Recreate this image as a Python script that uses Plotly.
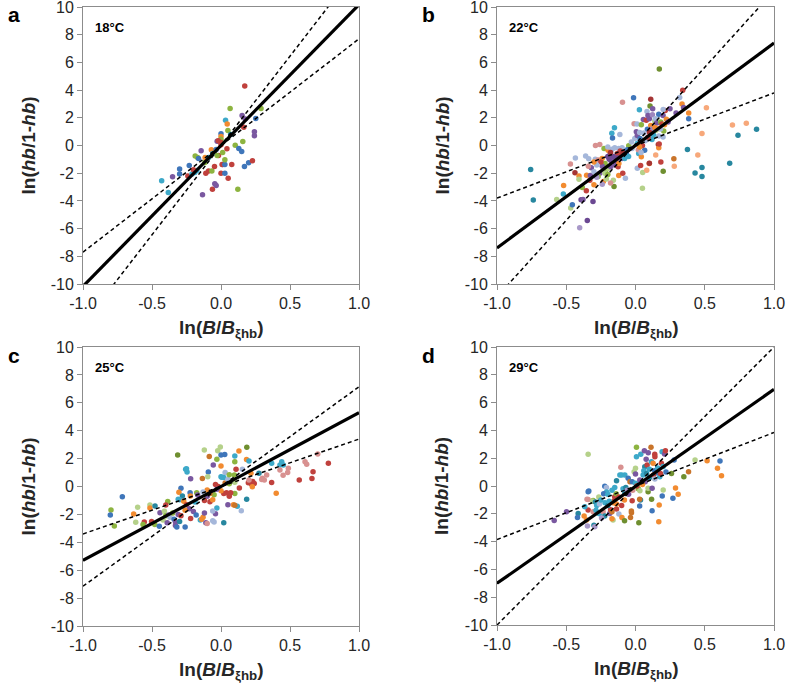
import plotly.graph_objects as go

# ---------------- data ----------------
PALETTE = {
    'B': '#3F76BA', 'R': '#C0413D', 'G': '#8DB440', 'P': '#7A58A0', 'C': '#3DA9C9',
    'O': '#F28B30', 'LB': '#A5B7DA', 'PK': '#D89190', 'LG': '#B5D18A', 'T': '#27879F',
    'SA': '#F7A87A', 'BO': '#C9742A', 'DR': '#A53434', 'DP': '#6B4892', 'OL': '#6F8F30',
    'LV': '#A898C8', 'LP': '#9E87BE',
}

x_tickvals = [-1.0, -0.5, 0.0, 0.5, 1.0]
x_ticktext = ['-1.0', '-0.5', '0.0', '0.5', '1.0']
y_tickvals = [-10, -8, -6, -4, -2, 0, 2, 4, 6, 8, 10]
y_ticktext = ['-10', '-8', '-6', '-4', '-2', '0', '2', '4', '6', '8', '10']

panel_letters = ['a', 'b', 'c', 'd']
temperatures = ['18°C', '22°C', '25°C', '29°C']

# fitted lines: slope, intercept  (solid, lower-slope dashed, higher-slope dashed)
solid_slope = [10.17, 7.4, 5.3, 6.975]
solid_icpt = [0.0, 0.0, 0.0, -0.025]
dash_lo_slope = [7.7, 3.8, 3.4, 3.85]
dash_lo_icpt = [0.0, 0.0, 0.0, 0.0]
dash_hi_slope = [12.9, 11.05, 7.15, 10.0]
dash_hi_icpt = [0.0, 0.12, 0.0, 0.0]

# panel a (18 °C)
a_pts = [
    (-0.43, -2.55, 'C'), (-0.382, -3.4, 'C'), (-0.351, -2.26, 'P'), (-0.30, -1.7, 'B'),
    (-0.30, -2.05, 'B'), (-0.24, -2.2, 'R'), (-0.23, -1.45, 'B'), (-0.21, -2.05, 'C'),
    (-0.19, -1.95, 'C'), (-0.175, -1.8, 'C'), (-0.2, -1.75, 'R'), (-0.187, -0.75, 'G'),
    (-0.17, -0.87, 'G'), (-0.163, -0.94, 'B'), (-0.144, -0.38, 'P'), (-0.117, -1.23, 'G'),
    (-0.11, -2.0, 'R'), (-0.134, -3.56, 'P'), (-0.115, -0.87, 'O'), (-0.09, -0.87, 'T'),
    (-0.07, -0.31, 'O'), (-0.09, -1.85, 'R'), (-0.062, -3.15, 'R'), (-0.066, -1.85, 'G'),
    (-0.06, -0.58, 'C'), (-0.045, -2.77, 'P'), (-0.035, -2.88, 'P'), (-0.047, -1.52, 'R'),
    (-0.035, -0.29, 'B'), (-0.028, 0.31, 'P'), (-0.018, -0.72, 'R'), (-0.028, -0.72, 'G'),
    (0.0, 0.84, 'B'), (0.0, 0.65, 'O'), (0.0, 0.46, 'G'), (0.0, 0.22, 'R'), (0.0, 0.05, 'R'),
    (0.0, -2.0, 'R'), (0.012, -0.5, 'G'), (0.013, -1.37, 'P'), (0.008, -1.37, 'R'),
    (0.028, -1.37, 'B'), (0.028, -2.0, 'B'), (0.043, -0.24, 'R'), (0.028, -1.03, 'G'),
    (0.033, 1.83, 'C'), (0.045, 1.56, 'O'), (0.05, 1.08, 'G'), (0.052, -2.36, 'R'),
    (0.066, 2.67, 'G'), (0.078, -1.37, 'R'), (0.103, 0.02, 'G'), (0.129, -0.22, 'B'),
    (0.15, -0.43, 'B'), (0.122, -3.15, 'G'), (0.153, 2.16, 'P'), (0.175, 1.92, 'P'),
    (0.165, 1.32, 'R'), (0.172, 4.3, 'R'), (0.158, 0.29, 'G'), (0.17, -1.52, 'B'),
    (0.2, -1.25, 'B'), (0.228, -1.1, 'R'), (0.242, 1.0, 'P'), (0.242, 0.7, 'P'),
    (0.252, 1.95, 'B'), (0.29, 2.67, 'G'), (0.07, 0.8, 'T'), (-0.02, 0.35, 'R'),
]

# panel b (22 °C)
b_pts = [
    (-0.757, -1.74, 'T'), (-0.738, -3.94, 'T'), (-0.569, -3.89, 'LG'), (-0.521, -3.5, 'C'),
    (-0.519, -2.89, 'O'), (-0.47, -1.34, 'PK'), (-0.468, -4.51, 'LG'), (-0.456, -4.27, 'B'),
    (-0.437, -1.96, 'DR'), (-0.434, -0.91, 'LB'), (-0.408, -2.2, 'O'), (-0.408, -2.43, 'LG'),
    (-0.403, -5.94, 'LV'), (-0.393, -3.91, 'DP'), (-0.379, -3.89, 'P'), (-0.384, -3.03, 'G'),
    (-0.353, -2.15, 'O'), (-0.355, -3.27, 'R'), (-0.348, -5.42, 'DP'), (-0.36, -0.76, 'LB'),
    (-0.338, -0.95, 'LB'), (-0.326, -2.17, 'P'), (-0.319, -1.61, 'P'), (-0.30, -1.9, 'LB'),
    (-0.30, -2.84, 'O'), (-0.307, -4.04, 'DP'), (-0.29, -1.0, 'LB'), (-0.289, 0.0, 'PK'),
    (-0.27, -1.05, 'PK'), (-0.258, 0.07, 'PK'), (-0.258, -2.0, 'P'), (-0.27, -2.24, 'G'),
    (-0.241, -0.93, 'O'), (-0.232, -2.6, 'O'), (-0.227, -0.22, 'G'), (-0.217, -1.9, 'G'),
    (-0.21, -2.41, 'LG'), (-0.198, -0.34, 'O'), (-0.198, -1.66, 'LG'), (-0.183, -0.65, 'P'),
    (-0.174, -1.18, 'P'), (-0.179, -1.54, 'P'), (-0.169, -0.27, 'LB'), (-0.171, 0.88, 'C'),
    (-0.166, 0.55, 'B'), (-0.152, 1.29, 'C'), (-0.155, -0.94, 'P'), (-0.155, -2.96, 'OL'),
    (-0.15, -0.17, 'LB'), (-0.145, -1.42, 'P'), (-0.131, -0.58, 'R'), (-0.126, -1.54, 'R'),
    (-0.121, -0.22, 'LB'), (-0.121, -2.17, 'O'), (-0.113, 0.79, 'LB'), (-0.107, -0.58, 'R'),
    (-0.097, -0.17, 'LB'), (-0.097, -0.94, 'P'), (-0.094, 3.13, 'PK'), (-0.092, -2.0, 'R'),
    (-0.078, -0.94, 'C'), (-0.073, -2.36, 'LB'), (-0.066, -0.58, 'B'), (-0.049, -0.02, 'G'),
    (-0.03, 0.26, 'LB'), (-0.025, -0.22, 'LB'), (-0.014, 3.44, 'B'), (-0.01, 1.57, 'PK'),
    (-0.005, 0.5, 'LB'), (0.006, 1.0, 'P'), (0.011, 1.55, 'LB'), (0.013, 0.73, 'P'),
    (0.013, 0.14, 'C'), (0.013, -1.65, 'LB'), (0.023, -0.58, 'C'), (0.028, 2.58, 'C'),
    (0.03, 0.93, 'LB'), (0.033, 0.5, 'B'), (0.037, -1.45, 'R'), (0.042, 1.5, 'G'),
    (0.042, -0.82, 'O'), (0.05, -3.08, 'LG'), (0.052, -1.95, 'LG'), (0.057, 1.87, 'P'),
    (0.066, -0.34, 'B'), (0.078, 1.82, 'R'), (0.081, -1.78, 'SA'), (0.083, 2.46, 'LB'),
    (0.086, 1.17, 'B'), (0.09, 2.17, 'P'), (0.1, 1.94, 'P'), (0.1, -1.3, 'O'),
    (0.105, 2.86, 'OL'), (0.11, 3.34, 'DR'), (0.11, 1.45, 'O'), (0.115, 1.17, 'LP'),
    (0.119, 0.43, 'C'), (0.1, -1.29, 'DR'), (0.124, 2.65, 'P'), (0.122, 2.22, 'LP'),
    (0.139, 1.77, 'LG'), (0.143, 1.94, 'LB'), (0.146, -0.69, 'SA'), (0.148, 1.1, 'LG'),
    (0.153, 1.62, 'P'), (0.165, 0.08, 'DR'), (0.168, -0.16, 'O'), (0.168, 2.25, 'B'),
    (0.168, 0.68, 'LB'), (0.17, 1.22, 'O'), (0.172, 5.52, 'OL'), (0.171, 0.1, 'R'),
    (0.183, -1.19, 'R'), (0.182, 1.7, 'G'), (0.191, 1.55, 'R'), (0.199, 2.17, 'P'),
    (0.199, 0.61, 'LB'), (0.2, -1.86, 'OL'), (0.204, 1.05, 'G'), (0.215, 2.53, 'R'),
    (0.223, 1.89, 'O'), (0.235, 1.7, 'P'), (0.249, 2.65, 'P'), (0.277, -0.95, 'BO'),
    (0.28, -1.5, 'SA'), (0.293, 2.34, 'P'), (0.319, 3.46, 'LB'), (0.336, 3.0, 'O'),
    (0.341, 3.99, 'R'), (0.347, 2.74, 'P'), (0.375, -0.29, 'T'), (0.384, 2.34, 'O'),
    (0.384, 1.94, 'B'), (0.43, -1.98, 'T'), (0.45, -0.69, 'SA'), (0.48, 0.86, 'SA'),
    (0.48, -1.58, 'T'), (0.48, -2.24, 'T'), (0.512, 2.72, 'SA'), (0.68, -1.29, 'T'),
    (0.70, 1.48, 'SA'), (0.74, 0.74, 'T'), (0.80, 1.6, 'SA'), (0.874, 1.17, 'T'),
    (-0.2, -0.8, 'DP'), (-0.19, -1.0, 'DP'), (-0.16, -0.8, 'DP'), (-0.14, -1.1, 'DP'),
    (-0.13, -0.9, 'DP'), (-0.12, -1.3, 'O'), (-0.22, -1.3, 'G'), (-0.24, -1.5, 'P'),
    (-0.25, -1.2, 'R'), (-0.18, -0.5, 'DR'), (-0.11, -0.4, 'R'), (-0.09, -0.5, 'DR'),
    (-0.06, -0.3, 'B'), (-0.05, -0.8, 'C'), (-0.2, -0.1, 'LB'), (-0.22, -2.0, 'LG'),
    (-0.2, -2.1, 'G'), (-0.16, -2.5, 'LG'), (-0.18, -2.7, 'PK'), (-0.28, -1.4, 'LB'),
    (-0.3, -1.2, 'O'), (-0.33, -2.5, 'R'), (-0.34, -1.5, 'PK'), (-0.28, -2.3, 'LV'),
    (-0.24, -2.8, 'LV'), (0.02, -0.3, 'PK'), (0.04, -0.5, 'LB'), (0.05, 0.0, 'R'),
    (0.03, -0.1, 'O'), (0.07, 0.35, 'LB'), (0.09, 0.6, 'R'), (0.1, 0.95, 'DR'),
    (0.06, 0.9, 'LB'), (0.13, 0.75, 'C'), (0.14, 1.3, 'O'), (0.18, 1.2, 'LB'),
    (0.21, 1.5, 'O'), (0.2, 2.6, 'LB'),
]

# panel c (25 °C)
c_pts = [
    (-0.715, -0.73, 'B'), (-0.797, -1.68, 'G'), (-0.802, -2.04, 'B'), (-0.773, -2.83, 'G'),
    (-0.604, -1.49, 'LG'), (-0.633, -1.97, 'O'), (-0.618, -2.57, 'LG'), (-0.556, -2.55, 'R'),
    (-0.565, -2.72, 'G'), (-0.515, -1.33, 'LG'), (-0.515, -1.54, 'O'), (-0.478, -1.40, 'T'),
    (-0.503, -2.5, 'R'), (-0.48, -2.73, 'G'), (-0.447, -2.85, 'B'), (-0.442, -1.88, 'P'),
    (-0.41, -1.78, 'LG'), (-0.386, -1.07, 'G'), (-0.40, -1.33, 'R'), (-0.40, -2.1, 'G'),
    (-0.42, -2.4, 'LG'), (-0.39, -2.6, 'P'), (-0.38, -2.05, 'P'), (-0.37, -2.2, 'LB'),
    (-0.35, -1.9, 'G'), (-0.34, -2.35, 'B'), (-0.33, -2.55, 'P'), (-0.33, -2.8, 'P'),
    (-0.32, -2.9, 'B'), (-0.31, -2.0, 'P'), (-0.30, -2.5, 'T'), (-0.29, -2.1, 'R'),
    (-0.314, 2.26, 'OL'), (-0.29, -0.13, 'B'), (-0.305, -0.42, 'O'), (-0.256, 1.23, 'C'),
    (-0.246, 1.04, 'C'), (-0.25, 1.28, 'C'), (-0.22, 0.55, 'P'), (-0.28, -0.68, 'T'),
    (-0.31, -0.92, 'C'), (-0.30, -0.95, 'C'), (-0.27, -1.05, 'O'), (-0.224, -0.44, 'B'),
    (-0.222, -0.68, 'O'), (-0.176, -0.44, 'G'), (-0.169, -0.61, 'P'), (-0.188, -1.11, 'C'),
    (-0.25, -1.3, 'R'), (-0.23, -1.6, 'P'), (-0.26, -1.7, 'O'), (-0.2, -1.8, 'P'),
    (-0.22, -2.3, 'R'), (-0.26, -2.9, 'B'), (-0.18, -2.05, 'B'), (-0.15, -2.4, 'C'),
    (-0.14, -2.35, 'O'), (-0.13, -2.2, 'O'), (-0.12, -1.9, 'P'), (-0.11, -2.6, 'P'),
    (-0.1, -2.65, 'PK'), (-0.06, -2.45, 'LB'), (-0.05, -2.55, 'LB'), (0.02, -2.6, 'T'),
    (-0.04, -1.95, 'P'), (-0.03, -1.55, 'C'), (-0.06, -1.75, 'LB'), (-0.121, 2.62, 'LG'),
    (-0.085, 2.15, 'BO'), (-0.056, 1.54, 'P'), (-0.092, 1.04, 'B'), (-0.135, 0.58, 'BO'),
    (-0.096, 0.7, 'LG'), (-0.024, 2.56, 'LG'), (-0.005, 2.84, 'LG'), (-0.03, 1.95, 'G'),
    (0.0, 2.25, 'B'), (0.027, 2.29, 'B'), (0.0, 1.47, 'O'), (0.03, 1.0, 'LB'),
    (0.1, 2.18, 'C'), (0.13, 2.54, 'O'), (0.187, 2.81, 'OL'), (0.1, 1.78, 'G'),
    (0.185, 1.93, 'O'), (0.203, 1.82, 'C'), (0.109, 1.23, 'R'), (0.155, 1.23, 'LB'),
    (0.005, 0.66, 'C'), (0.02, 0.65, 'C'), (0.097, 0.82, 'G'), (0.217, 0.95, 'O'),
    (0.275, 0.95, 'T'), (0.331, 0.82, 'PK'), (0.367, 1.66, 'C'), (0.427, 1.54, 'C'),
    (0.452, 1.54, 'C'), (0.44, 1.78, 'C'), (0.427, 1.18, 'PK'), (0.488, 1.30, 'PK'),
    (0.483, 1.0, 'PK'), (0.45, 0.8, 'PK'), (0.609, 1.78, 'PK'), (0.621, 1.6, 'PK'),
    (0.701, 2.33, 'PK'), (0.778, 1.66, 'R'), (0.667, 1.06, 'R'), (0.659, 0.58, 'R'),
    (0.567, 0.46, 'R'), (0.4, -0.49, 'O'), (0.367, 0.29, 'R'), (0.295, 0.51, 'PK'),
    (0.314, 0.46, 'PK'), (0.3, 0.6, 'PK'), (0.222, 0.17, 'R'), (0.241, 0.22, 'R'),
    (0.198, 0.26, 'R'), (0.23, 0.35, 'R'), (0.203, 0.46, 'PK'), (0.227, -0.02, 'O'),
    (0.186, -0.92, 'T'), (0.133, -0.1, 'R'), (0.1, -0.5, 'G'), (0.118, -1.41, 'C'),
    (0.147, -1.73, 'LB'), (0.09, -1.3, 'O'), (0.1, -1.35, 'BO'), (0.05, -1.3, 'P'),
    (0.06, -0.7, 'R'), (0.04, -0.45, 'R'), (0.07, -0.45, 'R'), (0.02, -0.5, 'R'),
    (0.0, -0.3, 'O'), (-0.02, 0.0, 'R'), (-0.04, 0.15, 'R'), (-0.03, -0.2, 'P'),
    (-0.05, -0.6, 'G'), (-0.08, -0.5, 'BO'), (-0.1, -0.25, 'O'), (-0.1, -0.7, 'P'),
    (-0.12, -1.0, 'R'), (-0.08, -1.1, 'R'), (-0.06, -0.95, 'O'), (-0.13, -0.4, 'LB'),
    (0.03, 0.25, 'BO'), (0.05, 0.5, 'LB'), (0.06, 0.2, 'G'), (0.0, 0.7, 'C'),
    (0.06, 0.85, 'G'), (0.1, 0.3, 'LG'),
]

# panel d (29 °C)
d_pts = [
    (-0.587, -2.49, 'P'), (-0.498, -1.85, 'P'), (-0.342, 2.28, 'LG'), (-0.337, -0.36, 'B'),
    (-0.414, -1.97, 'T'), (-0.419, -2.26, 'B'), (-0.371, -2.16, 'O'), (-0.354, -2.45, 'O'),
    (-0.342, -1.73, 'R'), (-0.366, -1.49, 'C'), (-0.342, -0.97, 'PK'), (-0.35, -0.95, 'PK'),
    (-0.342, -0.41, 'B'), (-0.347, -2.88, 'LV'), (-0.3, -2.82, 'T'), (-0.306, -1.05, 'G'),
    (-0.31, -1.1, 'LG'), (-0.29, -1.15, 'T'), (-0.306, -1.85, 'PK'), (-0.294, -2.93, 'LV'),
    (-0.285, -1.75, 'C'), (-0.28, -1.4, 'C'), (-0.265, -0.8, 'LG'), (-0.26, -1.3, 'LB'),
    (-0.27, -1.95, 'T'), (-0.26, -2.0, 'C'), (-0.234, -1.85, 'PK'), (-0.222, -2.16, 'T'),
    (-0.245, -2.3, 'LV'), (-0.222, -0.01, 'B'), (-0.21, -0.1, 'LB'), (-0.209, -0.44, 'C'),
    (-0.23, -0.55, 'B'), (-0.2, -0.6, 'C'), (-0.186, -1.97, 'P'), (-0.18, -1.7, 'R'),
    (-0.17, -1.85, 'BO'), (-0.162, -2.45, 'LG'), (-0.17, -2.35, 'O'), (-0.154, -1.06, 'R'),
    (-0.15, -0.77, 'R'), (-0.16, -1.2, 'O'), (-0.14, -0.55, 'G'), (-0.137, -1.65, 'R'),
    (-0.137, -1.3, 'O'), (-0.12, -2.02, 'LB'), (-0.137, 0.38, 'T'), (-0.113, 0.79, 'C'),
    (-0.1, 0.8, 'C'), (-0.106, 1.34, 'PK'), (-0.098, -2.26, 'O'), (-0.079, -2.5, 'OL'),
    (-0.077, 0.79, 'C'), (-0.077, -0.53, 'T'), (-0.09, -0.2, 'C'), (-0.07, -0.1, 'T'),
    (-0.053, 0.55, 'B'), (-0.04, 0.3, 'BO'), (-0.036, -2.26, 'BO'), (-0.029, -1.92, 'BO'),
    (-0.03, -1.8, 'BO'), (-0.024, -1.06, 'R'), (-0.024, 0.31, 'B'), (-0.06, -0.3, 'LV'),
    (-0.01, 1.03, 'LG'), (0.0, 1.27, 'LG'), (0.0, 0.86, 'P'), (0.0, 0.19, 'C'),
    (0.007, 2.78, 'G'), (0.007, 2.11, 'C'), (0.02, -0.2, 'G'), (0.031, 0.43, 'P'),
    (0.038, 2.28, 'C'), (0.024, -2.64, 'OL'), (0.032, -0.34, 'LG'), (0.036, -1.01, 'T'),
    (0.03, -1.44, 'B'), (0.03, -0.95, 'BO'), (0.055, 0.79, 'C'), (0.064, 2.54, 'P'),
    (0.067, 1.39, 'T'), (0.07, 0.31, 'P'), (0.077, 1.92, 'P'), (0.084, 1.51, 'R'),
    (0.092, 2.4, 'P'), (0.091, -0.41, 'OL'), (0.091, -0.17, 'LG'), (0.1, 0.6, 'T'),
    (0.112, 2.78, 'BO'), (0.115, 1.75, 'C'), (0.116, -0.96, 'OL'), (0.12, -0.17, 'P'),
    (0.12, -1.78, 'B'), (0.127, 1.63, 'O'), (0.139, 2.28, 'R'), (0.14, 2.1, 'R'),
    (0.139, 1.1, 'B'), (0.15, 0.95, 'B'), (0.168, -2.57, 'O'), (0.171, -1.37, 'O'),
    (0.175, 0.67, 'C'), (0.187, 1.63, 'R'), (0.192, 2.47, 'C'), (0.193, -0.72, 'B'),
    (0.2, -0.29, 'LG'), (0.2, 1.4, 'C'), (0.21, 2.3, 'P'), (0.216, 2.54, 'R'),
    (0.22, 1.0, 'B'), (0.26, 0.9, 'OL'), (0.27, -0.89, 'B'), (0.279, 1.87, 'B'),
    (0.289, -0.15, 'O'), (0.308, -0.6, 'O'), (0.349, 0.67, 'OL'), (0.383, 1.03, 'BO'),
    (0.43, 1.87, 'LG'), (0.517, 1.82, 'O'), (0.592, 1.27, 'O'), (0.61, 1.8, 'B'),
    (0.621, 0.74, 'O'), (-0.25, -1.0, 'C'), (-0.22, -1.2, 'C'), (-0.2, -1.4, 'T'),
    (-0.19, -1.1, 'C'), (-0.17, -0.3, 'C'), (-0.15, -0.1, 'C'), (-0.12, -0.8, 'R'),
    (-0.1, -1.4, 'R'), (-0.08, -1.0, 'O'), (-0.05, -0.6, 'P'), (-0.02, -0.3, 'PK'),
    (0.01, 0.0, 'R'), (0.05, 0.1, 'O'), (0.06, 1.1, 'C'), (0.08, 0.9, 'T'),
    (0.1, 1.2, 'C'), (0.13, 0.8, 'R'), (0.16, 1.3, 'C'), (0.18, 0.9, 'R'),
    (0.14, 0.5, 'LB'),
]

# ---------------- figure ----------------
W, H = 787, 685
# plot-area pixel boxes (left, right, top, bottom)
boxes = [(83, 359, 7, 284), (497, 774, 7, 284), (83, 359, 347, 626), (497, 774, 347, 625)]
all_pts = [a_pts, b_pts, c_pts, d_pts]

AXIS_COL = '#8C8C8C'
TXT_COL = '#262626'
FONT = 'Liberation Sans, Arial, sans-serif'

fig = go.Figure()
layout_axes = {}
annotations = []

for i, (pts, box) in enumerate(zip(all_pts, boxes)):
    n = '' if i == 0 else str(i + 1)
    xa, ya = 'x' + n, 'y' + n
    l, r, t, b = box
    common = dict(
        showline=True, linecolor=AXIS_COL, linewidth=1, mirror=True,
        ticks='outside', ticklen=5, tickwidth=1, tickcolor=AXIS_COL,
        showgrid=False, zeroline=False, automargin=False, ticklabeloverflow='allow',
        tickfont=dict(family=FONT, size=16, color=TXT_COL),
    )
    layout_axes['xaxis' + n] = dict(
        domain=[l / W, r / W], anchor=ya, range=[-1, 1],
        tickvals=x_tickvals, ticktext=x_ticktext, **common)
    layout_axes['yaxis' + n] = dict(
        domain=[1 - b / H, 1 - t / H], anchor=xa, range=[-10, 10],
        tickvals=y_tickvals, ticktext=y_ticktext, **common)
    xs = [p[0] for p in pts]
    ys = [p[1] for p in pts]
    cs = [PALETTE[p[2]] for p in pts]
    fig.add_trace(go.Scatter(x=xs, y=ys, mode='markers', xaxis=xa, yaxis=ya,
                             marker=dict(size=5.5, color=cs, line=dict(width=0)),
                             showlegend=False, hoverinfo='x+y'))
    line_x = [-1.0, 1.0]
    for slope, icpt, style in [(dash_lo_slope[i], dash_lo_icpt[i], 'dash'),
                               (dash_hi_slope[i], dash_hi_icpt[i], 'dash'),
                               (solid_slope[i], solid_icpt[i], 'solid')]:
        ly = [slope * xv + icpt for xv in line_x]
        if style == 'solid':
            ln = dict(color='black', width=3.2)
        else:
            ln = dict(color='black', width=1.5, dash='4px,3px')
        fig.add_trace(go.Scatter(x=line_x, y=ly, mode='lines', xaxis=xa, yaxis=ya,
                                 line=ln, showlegend=False, hoverinfo='skip'))

    cx = (l + r) / 2
    cy = (t + b) / 2
    # y-axis title
    annotations.append(dict(
        x=(l - 55) / W, y=1 - cy / H, xref='paper', yref='paper',
        text='<b>ln(<i>hb</i>/1-<i>hb</i>)</b>', textangle=-90, showarrow=False,
        font=dict(family=FONT, size=19, color=TXT_COL), xanchor='center', yanchor='middle'))
    # x-axis title
    annotations.append(dict(
        x=cx / W, y=1 - (b + 45) / H, xref='paper', yref='paper',
        text='<b>ln(<i>B</i>/<i>B</i><sub>ξhb</sub>)</b>', showarrow=False,
        font=dict(family=FONT, size=19, color=TXT_COL), xanchor='center', yanchor='middle'))
    # panel letter
    annotations.append(dict(
        x=(l - 77) / W, y=1 - (t + 8) / H, xref='paper', yref='paper',
        text='<b>' + panel_letters[i] + '</b>', showarrow=False,
        font=dict(family=FONT, size=21, color='black'), xanchor='left', yanchor='middle'))
    # temperature label
    annotations.append(dict(
        x=(l + 10) / W, y=1 - (t + 20) / H, xref='paper', yref='paper',
        text='<b>' + temperatures[i] + '</b>', showarrow=False,
        font=dict(family=FONT, size=13, color='black'), xanchor='left', yanchor='middle'))

fig.update_layout(
    template='none',
    width=W, height=H, margin=dict(l=0, r=0, t=0, b=0, autoexpand=False),
    paper_bgcolor='white', plot_bgcolor='white',
    annotations=annotations, **layout_axes,
)

fig.write_html('out.html', config={'displayModeBar': False},
               post_script="document.body.style.margin='0px';"
                           "document.documentElement.style.overflow='hidden';")
